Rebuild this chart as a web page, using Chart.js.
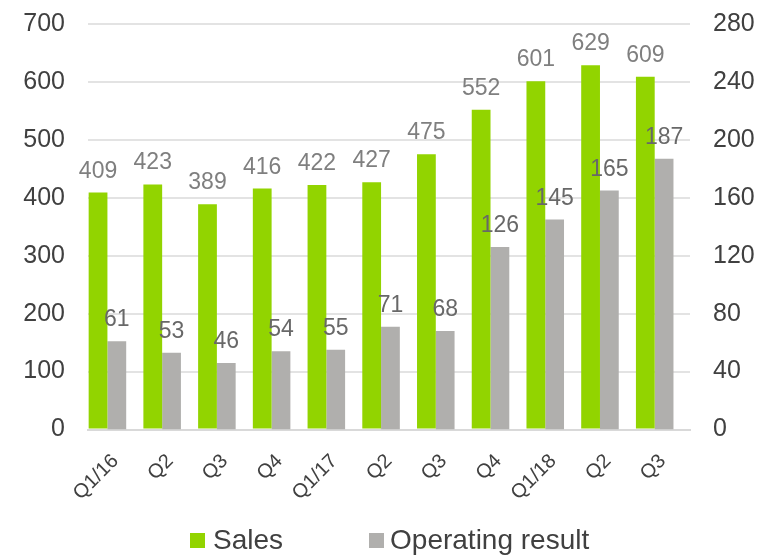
<!DOCTYPE html>
<html>
<head>
<meta charset="utf-8">
<script src="https://cdn.jsdelivr.net/npm/chart.js@4/dist/chart.umd.min.js"></script>
<style>
  html, body { margin: 0; padding: 0; background: #fff; }
  #wrap { position: relative; width: 767px; height: 556px; }
  #legend {
    position: absolute; left: 190px; top: 526px;
    display: flex; align-items: center;
    font: 28px "Liberation Sans", Arial, sans-serif; line-height: 28px; color: #404040;
  }
  #legend .box { width: 15px; height: 15px; display: inline-block; }
</style>
</head>
<body>
<div id="wrap">
  <canvas id="chart" width="767" height="556"></canvas>
  <div id="legend">
    <span class="box" style="background:#92d400"></span><span style="margin:0 86px 0 8px">Sales</span>
    <span class="box" style="background:#b0afad"></span><span style="margin-left:6px">Operating result</span>
  </div>
</div>
<script>
const quarters = ["Q1/16", "Q2", "Q3", "Q4", "Q1/17", "Q2", "Q3", "Q4", "Q1/18", "Q2", "Q3"]
const sales = [409, 423, 389, 416, 422, 427, 475, 552, 601, 629, 609]
const operatingResult = [61, 53, 46, 54, 55, 71, 68, 126, 145, 165, 187]
const salesTicks = [0, 100, 200, 300, 400, 500, 600, 700]
const resultTicks = [0, 40, 80, 120, 160, 200, 240, 280]

const font = "'Liberation Sans', Arial, sans-serif"

// values drawn above each bar
const valueLabels = {
  id: "valueLabels",
  afterDatasetsDraw(chart) {
    const ctx = chart.ctx
    ctx.save()
    ctx.font = "23px " + font
    ctx.textAlign = "center"
    ctx.textBaseline = "alphabetic"
    chart.data.datasets.forEach((ds, i) => {
      ctx.fillStyle = i === 0 ? "#7f7f7f" : "#686868"
      chart.getDatasetMeta(i).data.forEach((bar, j) => {
        ctx.fillText(String(ds.data[j].y), bar.x, bar.y - 15)
      })
    })
    ctx.restore()
  },
}

// fixed axis width, no extra room above/below for the end labels
const fitAxis = (s) => {
  s.width = 66
  s.paddingTop = 0
  s.paddingBottom = 0
}

new Chart(document.getElementById("chart"), {
  type: "bar",
  data: {
    labels: quarters,
    datasets: [
      {
        label: "Sales",
        data: sales.map((v, i) => ({ x: i, y: v })),
        backgroundColor: "#92d400",
        xAxisID: "xb",
        yAxisID: "y",
      },
      {
        label: "Operating result",
        data: operatingResult.map((v, i) => ({ x: i, y: v })),
        backgroundColor: "#b0afad",
        xAxisID: "xb",
        yAxisID: "y1",
      },
    ],
  },
  options: {
    responsive: false,
    animation: false,
    layout: { padding: { left: 22, right: 11, top: 24, bottom: 39 } },
    datasets: { bar: { categoryPercentage: 0.686, barPercentage: 1 } },
    scales: {
      x: {
        type: "category",
        grid: { display: false },
        border: { display: true, color: "#d9d9d9", width: 2 },
        ticks: {
          color: "#404040",
          font: { family: font, size: 20 },
          minRotation: 45,
          maxRotation: 45,
          padding: 12,
        },
      },
      // bars sit a little left of the category centres, as in the original
      xb: {
        type: "linear",
        position: "bottom",
        min: -0.355,
        max: 10.645,
        offset: false,
        grid: { display: false, drawTicks: false },
        border: { display: false },
        ticks: { display: false },
      },
      y: {
        position: "left",
        min: 0,
        max: 700,
        afterBuildTicks: (s) => { s.ticks = salesTicks.map((v) => ({ value: v })) },
        afterFit: fitAxis,
        grid: { color: "#e3e3e3", lineWidth: 2, drawTicks: false },
        border: { display: false },
        ticks: { color: "#404040", font: { family: font, size: 25 }, padding: 23 },
      },
      y1: {
        position: "right",
        min: 0,
        max: 280,
        afterBuildTicks: (s) => { s.ticks = resultTicks.map((v) => ({ value: v })) },
        afterFit: fitAxis,
        grid: { display: false, drawTicks: false },
        border: { display: false },
        ticks: { color: "#404040", font: { family: font, size: 25 }, padding: 23 },
      },
    },
    plugins: {
      legend: { display: false },
      tooltip: { enabled: false },
    },
  },
  plugins: [valueLabels],
})
</script>
</body>
</html>
